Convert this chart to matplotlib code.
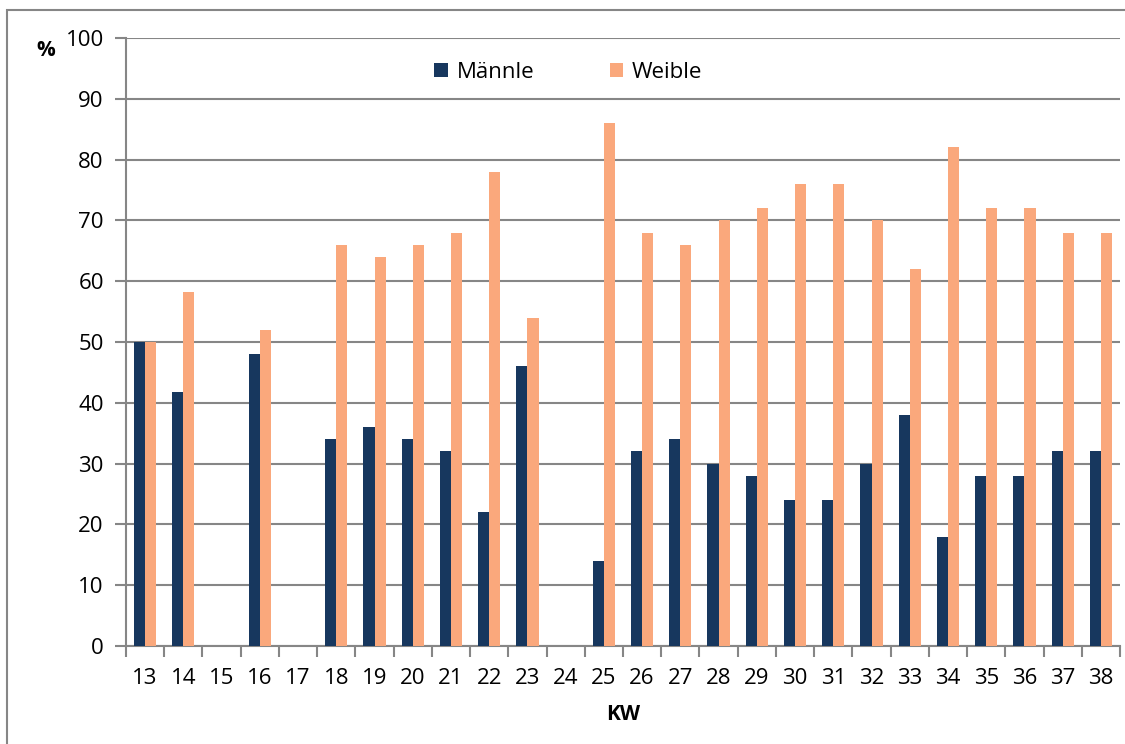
import numpy as np
import matplotlib.pyplot as plt
from matplotlib.patches import Rectangle

plt.rcParams['font.family'] = ['Open Sans', 'DejaVu Sans']

kw = list(range(13, 39))
maennle = [50, 41.7, 0, 48, 0, 34, 36, 34, 32, 22, 46, 0, 14, 32, 34, 30,
           28, 24, 24, 30, 38, 18, 28, 28, 32, 32]
weible = [50, 58.3, 0, 52, 0, 66, 64, 66, 68, 78, 54, 0, 86, 68, 66, 70,
          72, 76, 76, 70, 62, 82, 72, 72, 68, 68]

navy = "#17375E"
orange = "#FAA87C"
grey = "#868686"

fig = plt.figure(figsize=(11.25, 7.44), dpi=100)
ax = fig.add_axes([126 / 1125, 1 - 646 / 744, (1120 - 126) / 1125, (646 - 38) / 744])

x = np.arange(len(kw))
w = 0.29
ax.bar(x - w / 2, maennle, w, color=navy, label="Männle", zorder=3)
ax.bar(x + w / 2, weible, w, color=orange, label="Weible", zorder=3)

ax.set_xlim(-0.5, len(kw) - 0.5)
ax.set_ylim(0, 100)
ax.set_yticks(range(0, 101, 10))
ax.yaxis.grid(True, color=grey, linewidth=1.5, zorder=0)
ax.set_xticks(x)
ax.set_xticklabels([str(k) for k in kw])
ax.set_xticks(np.arange(-0.5, len(kw)), minor=True)
ax.tick_params(axis='x', which='major', length=0, pad=16, labelsize=16)
ax.tick_params(axis='x', which='minor', length=8, width=1.5, color=grey)
ax.tick_params(axis='y', length=8, width=1.5, color=grey, labelsize=16, pad=8)

for s in ['top', 'right']:
    ax.spines[s].set_visible(False)
for s in ['left', 'bottom']:
    ax.spines[s].set_color(grey)
    ax.spines[s].set_linewidth(1.5)

ax.set_xlabel("KW", fontweight='bold', fontsize=15, labelpad=11)
fig.text(46 / 1125, 1 - 50 / 744, "%", fontweight='bold', fontsize=15,
         ha='center', va='center')

ax.legend(loc='center', bbox_to_anchor=(0.445, 0.944), ncol=2, frameon=False,
          fontsize=16, handlelength=0.6, handleheight=0.6, handletextpad=0.4,
          columnspacing=3.4)

fig.patches.append(Rectangle((7 / 1125, -0.1), 1.2, 1 - 10 / 744 + 0.1,
                             transform=fig.transFigure, fill=False,
                             edgecolor=grey, linewidth=1.5))

fig.savefig("out.png", dpi=100)
